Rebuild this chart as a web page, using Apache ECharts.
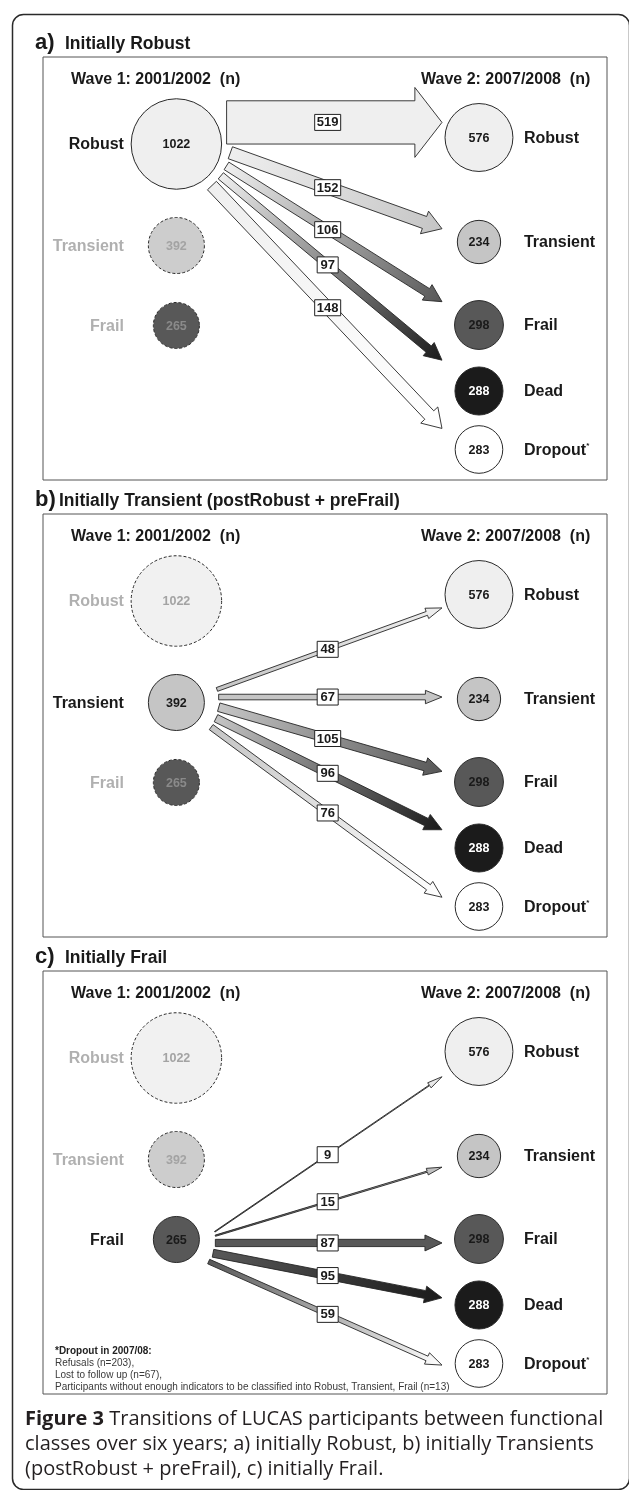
<!DOCTYPE html>
<html>
<head>
<meta charset="utf-8">
<script src="https://cdn.jsdelivr.net/npm/echarts@6/dist/echarts.min.js"></script>
<style>
  html, body { margin: 0; padding: 0; background: #fff; }
  #chart { width: 629px; height: 1490px; }
</style>
</head>
<body>
<div id="chart"></div>
<script>
// values
const wave1Classes = ['Robust', 'Transient', 'Frail']
const wave1Counts = [1022, 392, 265]
const wave2Classes = ['Robust', 'Transient', 'Frail', 'Dead', 'Dropout']
const wave2Counts = [576, 234, 298, 288, 283]
const robustTo = [519, 152, 106, 97, 148]
const transientTo = [48, 67, 105, 96, 76]
const frailTo = [9, 15, 87, 95, 59]
const panelLetters = ['a)', 'b)', 'c)']
const panelTitles = ['Initially Robust', 'Initially Transient (postRobust + preFrail)', 'Initially Frail']
const waveTitles = ['Wave 1: 2001/2002  (n)', 'Wave 2: 2007/2008  (n)']
const footnoteHead = '*Dropout in 2007/08:'
const footnoteLines = [
  'Refusals (n=203),',
  'Lost to follow up (n=67),',
  'Participants without enough indicators to be classified into Robust, Transient, Frail (n=13)'
]
const captionBold = 'Figure 3'
const captionLines = [
  ' Transitions of LUCAS participants between functional',
  'classes over six years; a) initially Robust, b) initially Transients',
  '(postRobust + preFrail), c) initially Frail.'
]

const flows = [robustTo, transientTo, frailTo]

// layout / style
const FONT = '"Liberation Sans", Arial, sans-serif'
const CAP_FONT = '"Open Sans", sans-serif'
const classFill = ['#efefef', '#c5c5c5', '#585858', '#1b1b1b', '#ffffff']
const leftRows = [87, 188.5, 268.5]          // y-axis units, box is 423 high
const rightRows = [80.5, 185, 268, 334, 392.5]
const panelTop = [57, 514, 971]
const fanCenter = [5, 9.5, 13]               // degrees, middle of the arrow fan
const aimShift = [0, 0, 0, 0, 18]            // arrows to Dropout aim a bit low
const tipInset = 37

const widthOf = n => n / 12
const radiusOf = n => 1.415 * Math.sqrt(n)

function fanAngles(vals, R, centerDeg) {
  const gap = 3
  const w = vals.map(widthOf)
  const total = w.reduce((a, b) => a + b, 0) + gap * (w.length - 1)
  let s = -total / 2
  return w.map(wi => {
    const mid = s + wi / 2
    s += wi + gap
    return centerDeg * Math.PI / 180 + mid / R
  })
}

function renderNode(params, api) {
  const col = api.value(0)
  const n = api.value(2)
  const cls = api.value(3)
  const state = api.value(4) // 0 faded, 1 active, 2 wave 2
  const c = api.coord([col, api.value(1)])
  const r = radiusOf(n)
  const faded = state === 0
  let numColor = cls === 3 ? '#ffffff' : '#1a1a1a'
  if (faded) numColor = cls === 2 ? '#8a8a8a' : '#a3a3a3'
  const name = col === 0 ? wave1Classes[cls] : wave2Classes[cls]
  const children = [
    {
      type: 'circle',
      shape: { cx: c[0], cy: c[1], r: r },
      style: {
        fill: faded && cls === 1 ? '#cdcdcd' : (faded && cls === 0 ? '#f1f1f1' : classFill[cls]),
        stroke: '#2a2a2a',
        lineWidth: 1,
        lineDash: faded ? [3, 2] : null
      }
    },
    {
      type: 'text',
      style: {
        text: String(n), x: c[0], y: c[1] + 1,
        align: 'center', verticalAlign: 'middle',
        font: 'bold 12.5px ' + FONT, fill: numColor
      }
    }
  ]
  if (col === 0) {
    children.push({
      type: 'text',
      style: {
        text: name, x: c[0] - 52.5, y: c[1] + 1,
        align: 'right', verticalAlign: 'middle',
        font: 'bold 16px ' + FONT, fill: faded ? '#b0b0b0' : '#1a1a1a'
      }
    })
  } else {
    const isDrop = name === 'Dropout'
    children.push({
      type: 'text',
      style: {
        text: isDrop ? '{n|Dropout}{s|*}' : name,
        x: c[0] + 45, y: c[1] + 1,
        align: 'left', verticalAlign: 'middle',
        font: 'bold 16px ' + FONT, fill: '#1a1a1a',
        rich: isDrop ? {
          n: { font: 'bold 16px ' + FONT, fill: '#1a1a1a' },
          s: { font: 'bold 8px ' + FONT, fill: '#1a1a1a', padding: [0, 0, 9, 0] }
        } : undefined
      }
    })
  }
  return { type: 'group', children: children }
}

function arrowRenderer(p) {
  return function (params, api) {
    const tgt = api.value(0)
    const n = api.value(1)
    const c0 = api.coord([0, leftRows[p]])
    const c1 = api.coord([1, rightRows[tgt]])
    const rs = radiusOf(wave1Counts[p])
    const R = 0.7 * rs + 23
    const ang = fanAngles(flows[p], R, fanCenter[p])[tgt]
    const S = [c0[0] + R * Math.cos(ang), c0[1] + R * Math.sin(ang)]
    const aim = [c1[0], c1[1] + aimShift[tgt]]
    const tipX = c1[0] - tipInset
    const t = (tipX - S[0]) / (aim[0] - S[0])
    // staying in the same class is drawn as a level arrow
    const T = tgt === p ? [tipX, S[1]] : [tipX, S[1] + t * (aim[1] - S[1])]
    const dx = T[0] - S[0], dy = T[1] - S[1]
    const L = Math.hypot(dx, dy)
    const ux = dx / L, uy = dy / L
    const nx = -uy, ny = ux
    const w = widthOf(n)
    const half = w / 2
    const hw = 0.75 * w + 2.5
    const hl = 15 + 0.28 * w
    const B = [T[0] - ux * hl, T[1] - uy * hl]
    const pts = [
      [S[0] + nx * half, S[1] + ny * half],
      [B[0] + nx * half, B[1] + ny * half],
      [B[0] + nx * hw, B[1] + ny * hw],
      T,
      [B[0] - nx * hw, B[1] - ny * hw],
      [B[0] - nx * half, B[1] - ny * half],
      [S[0] - nx * half, S[1] - ny * half]
    ]
    const grad = new echarts.graphic.LinearGradient(S[0], S[1], T[0], T[1], [
      { offset: 0, color: classFill[p] },
      { offset: 1, color: classFill[tgt] }
    ], true)
    const lx = api.coord([0.5, 0])[0]
    const ly = S[1] + (lx - S[0]) * dy / dx
    const bw = String(n).length >= 3 ? 26 : 21
    return {
      type: 'group',
      children: [
        { type: 'polygon', shape: { points: pts }, style: { fill: grad, stroke: '#262626', lineWidth: 0.9 } },
        { type: 'rect', shape: { x: lx - bw / 2, y: ly - 8, width: bw, height: 16 }, style: { fill: '#ffffff', stroke: '#222', lineWidth: 1 } },
        { type: 'text', style: { text: String(n), x: lx, y: ly + 0.5, align: 'center', verticalAlign: 'middle', font: 'bold 13px ' + FONT, fill: '#1a1a1a' } }
      ]
    }
  }
}

const grids = [], xAxes = [], yAxes = [], series = [], texts = []
panelTop.forEach((top, p) => {
  grids.push({ left: 43, top: top, width: 564, height: 423, show: true, borderColor: '#555', borderWidth: 1, backgroundColor: 'transparent' })
  xAxes.push({ gridIndex: p, type: 'value', min: -0.4408, max: 1.4231, show: false })
  yAxes.push({ gridIndex: p, type: 'value', min: 0, max: 423, inverse: true, show: false })

  const nodes = []
  wave1Counts.forEach((n, k) => nodes.push({ value: [0, leftRows[k], n, k, k === p ? 1 : 0] }))
  wave2Counts.forEach((n, k) => nodes.push({ value: [1, rightRows[k], n, k, 2] }))

  series.push({
    type: 'custom', xAxisIndex: p, yAxisIndex: p, silent: true, z: 2,
    renderItem: arrowRenderer(p),
    data: flows[p].map((n, t) => ({ value: [t, n] }))
  })
  series.push({
    type: 'custom', xAxisIndex: p, yAxisIndex: p, silent: true, z: 3,
    renderItem: renderNode,
    data: nodes
  })

  const titleY = top - 13
  texts.push({ type: 'text', left: 35, top: titleY - 12, style: { text: panelLetters[p], font: 'bold 22px ' + FONT, fill: '#1a1a1a' } })
  texts.push({ type: 'text', left: p === 1 ? 59 : 65, top: titleY - 9, style: { text: panelTitles[p], font: 'bold 17.5px ' + FONT, fill: '#1a1a1a' } })
  texts.push({ type: 'text', left: 71, top: top + 15, style: { text: waveTitles[0], font: 'bold 16px ' + FONT, fill: '#1a1a1a' } })
  texts.push({ type: 'text', left: 421, top: top + 15, style: { text: waveTitles[1], font: 'bold 16px ' + FONT, fill: '#1a1a1a' } })
})

texts.push({
  type: 'text', left: 55, top: 1345,
  style: {
    text: '{h|' + footnoteHead + '}\n' + footnoteLines.join('\n'),
    font: '10px ' + FONT, fill: '#3a3a3a', lineHeight: 12,
    rich: { h: { font: 'bold 10px ' + FONT, fill: '#222', lineHeight: 12 } }
  }
})

texts.push({
  type: 'text', left: 25, top: 1407,
  style: {
    text: '{b|' + captionBold + '}' + captionLines.join('\n'),
    font: '20px ' + CAP_FONT, fill: '#231f20', lineHeight: 25,
    rich: { b: { font: 'bold 20px ' + CAP_FONT, fill: '#231f20', lineHeight: 25 } }
  }
})

texts.unshift({
  type: 'rect', left: 10, top: 12,
  shape: { width: 617, height: 1475, r: 11 },
  style: { fill: 'none', stroke: '#2a2a2a', lineWidth: 1.5 }
})

const chart = echarts.init(document.getElementById('chart'), null, { renderer: 'canvas' })
chart.setOption({
  animation: false,
  backgroundColor: '#ffffff',
  grid: grids,
  xAxis: xAxes,
  yAxis: yAxes,
  graphic: { elements: texts },
  series: series
})
</script>
</body>
</html>
